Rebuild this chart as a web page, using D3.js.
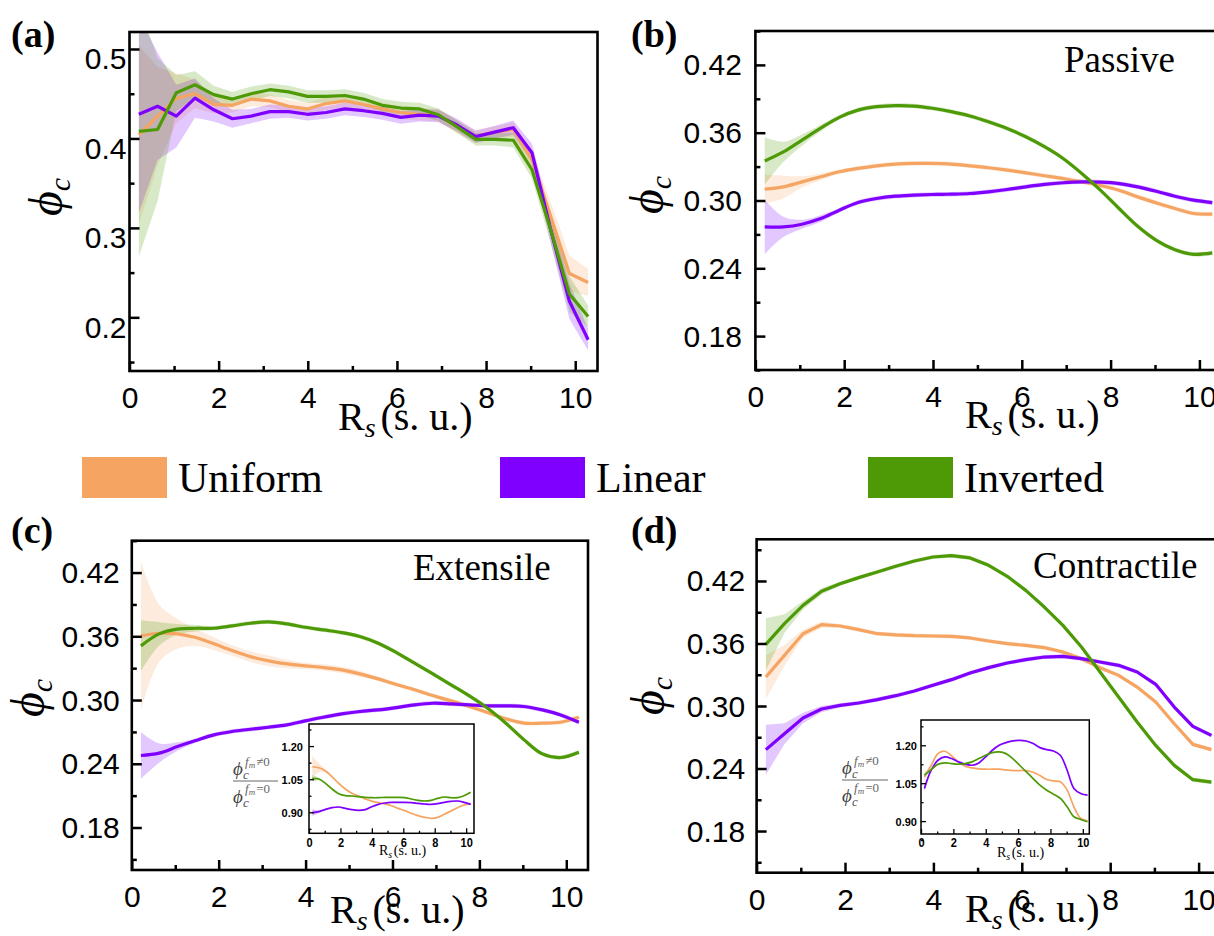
<!DOCTYPE html>
<html><head><meta charset="utf-8">
<script src="https://cdn.jsdelivr.net/npm/d3@7"></script>
<style>body{margin:0;background:#fff}svg{display:block}</style>
</head><body>
<svg id="c" width="1214" height="936"></svg>
<script>
// ---------------- DATA ----------------
const xs = [0.21,0.63,1.05,1.47,1.89,2.31,2.73,3.15,3.57,3.99,4.41,4.83,5.25,5.67,6.09,6.51,6.93,7.35,7.77,8.19,8.61,9.03,9.45,9.87,10.29];
const seriesNames = ["Uniform","Linear","Inverted"];
const seriesColors = ["#F5A462","#7F00FF","#4E9A06"];

const xTicks = [0,2,4,6,8,10];
const xMinorTicks = [1,3,5,7,9];
const aYTicks = [0.2,0.3,0.4,0.5];
const aYMinor = [0.15,0.25,0.35,0.45];
const phiYTicks = [0.18,0.24,0.30,0.36,0.42];
const phiYMinor = [0.15,0.21,0.27,0.33,0.39,0.45];
const insetYTicks = [0.90,1.05,1.20];
const insetYMinor = [0.825,0.975,1.125,1.275];
const insetXTicks = [0,2,4,6,8,10];
const insetXMinor = [1,3,5,7,9];

const panelLabels = ["(a)","(b)","(c)","(d)"];
const panelTitles = ["","Passive","Extensile","Contractile"];

// panel (a)
const aUniform  = [0.404,0.425,0.445,0.450,0.438,0.437,0.444,0.442,0.436,0.433,0.439,0.442,0.438,0.433,0.429,0.427,0.426,0.413,0.402,0.407,0.410,0.376,0.313,0.249,0.239];
const aLinear   = [0.427,0.436,0.425,0.445,0.432,0.422,0.425,0.430,0.430,0.427,0.429,0.433,0.431,0.428,0.4235,0.426,0.425,0.415,0.402,0.407,0.412,0.384,0.298,0.218,0.175];
const aInverted = [0.408,0.410,0.451,0.460,0.449,0.444,0.450,0.4545,0.452,0.447,0.447,0.448,0.444,0.437,0.434,0.433,0.4265,0.413,0.399,0.399,0.398,0.365,0.298,0.226,0.201];
const aUniformErr  = [0.10,0.055,0.028,0.016,0.010,0.008,0.008,0.007,0.007,0.007,0.007,0.007,0.007,0.007,0.007,0.007,0.007,0.007,0.007,0.007,0.008,0.010,0.016,0.020,0.015];
const aLinearErr   = [0.11,0.060,0.035,0.022,0.013,0.010,0.008,0.008,0.007,0.007,0.007,0.007,0.007,0.007,0.007,0.007,0.007,0.007,0.007,0.007,0.008,0.010,0.015,0.020,0.012];
const aInvertedErr = [0.14,0.080,0.020,0.015,0.010,0.008,0.008,0.007,0.007,0.007,0.007,0.007,0.007,0.007,0.007,0.007,0.007,0.007,0.007,0.007,0.008,0.010,0.015,0.020,0.012];

// panel (b) Passive
const bUniform  = [0.310,0.312,0.3165,0.321,0.3254,0.3284,0.3307,0.3322,0.3328,0.3328,0.3322,0.3307,0.329,0.3269,0.3245,0.3219,0.3195,0.3165,0.3133,0.3091,0.3032,0.2979,0.2929,0.2885,0.2879];
const bLinear   = [0.2766,0.2766,0.279,0.284,0.2914,0.2982,0.3018,0.3038,0.3047,0.3053,0.3056,0.3062,0.3077,0.3097,0.3121,0.3142,0.3157,0.3165,0.3162,0.315,0.3121,0.3082,0.3038,0.3003,0.2982];
const bInverted = [0.335,0.343,0.3535,0.364,0.3736,0.380,0.383,0.384,0.3836,0.3816,0.3786,0.3748,0.3697,0.3638,0.3564,0.3476,0.3372,0.3239,0.3092,0.2929,0.2772,0.2648,0.2565,0.2524,0.2536];
const bUniformErr  = [0.013,0.010,0.005,0.003,0.002,0.002,0.002,0.002,0.002,0.002,0.002,0.002,0.002,0.002,0.002,0.002,0.002,0.002,0.002,0.002,0.002,0.002,0.002,0.002,0.002];
const bLinearErr   = [0.024,0.009,0.004,0.003,0.002,0.002,0.002,0.002,0.002,0.002,0.002,0.002,0.002,0.002,0.002,0.002,0.002,0.002,0.002,0.002,0.002,0.002,0.002,0.002,0.002];
const bInvertedErr = [0.021,0.009,0.005,0.003,0.002,0.002,0.002,0.002,0.002,0.002,0.002,0.002,0.002,0.002,0.002,0.002,0.002,0.002,0.002,0.002,0.002,0.002,0.002,0.002,0.002];

// panel (c) Extensile
const cUniform  = [0.3604,0.3629,0.3623,0.3588,0.3529,0.3466,0.3409,0.3369,0.334,0.3322,0.3306,0.3284,0.3246,0.3199,0.3146,0.3096,0.3042,0.2992,0.2939,0.2882,0.2823,0.2782,0.2782,0.2791,0.2838];
const cLinear   = [0.2478,0.25,0.2562,0.2619,0.2672,0.2704,0.2725,0.2744,0.2766,0.2804,0.2838,0.287,0.2892,0.2907,0.2929,0.2955,0.297,0.2964,0.2955,0.2945,0.2945,0.2939,0.2907,0.286,0.2791];
const cInverted = [0.351,0.3623,0.3667,0.3676,0.3676,0.3698,0.3723,0.3736,0.3717,0.3685,0.366,0.3635,0.3598,0.3535,0.3447,0.3347,0.3246,0.3143,0.3039,0.2923,0.2782,0.2625,0.2493,0.2459,0.2509];
const cUniformErr  = [0.070,0.027,0.014,0.008,0.006,0.005,0.005,0.005,0.004,0.003,0.003,0.003,0.003,0.002,0.002,0.002,0.002,0.002,0.002,0.002,0.002,0.002,0.002,0.002,0.002];
const cLinearErr   = [0.022,0.009,0.004,0.002,0.002,0.002,0.002,0.002,0.002,0.002,0.002,0.002,0.002,0.002,0.002,0.002,0.002,0.002,0.002,0.002,0.002,0.002,0.002,0.002,0.002];
const cInvertedErr = [0.024,0.011,0.005,0.003,0.002,0.002,0.002,0.002,0.002,0.002,0.002,0.002,0.002,0.002,0.002,0.002,0.002,0.002,0.002,0.002,0.002,0.002,0.002,0.002,0.002];

// panel (d) Contractile
const dUniform  = [0.3278,0.3486,0.3694,0.3781,0.3768,0.3733,0.3694,0.3682,0.3675,0.3672,0.3669,0.3653,0.3624,0.3598,0.3582,0.356,0.3518,0.3454,0.3368,0.3294,0.3182,0.3038,0.283,0.2632,0.2581];
const dLinear   = [0.2581,0.2734,0.2885,0.2971,0.3006,0.3029,0.3061,0.3099,0.3144,0.32,0.3253,0.3317,0.3368,0.3413,0.3445,0.347,0.3477,0.3454,0.3422,0.339,0.3326,0.3208,0.299,0.2805,0.2718];
const dInverted = [0.3592,0.379,0.3966,0.4101,0.4174,0.4232,0.4286,0.4341,0.4392,0.443,0.4443,0.4421,0.435,0.4245,0.411,0.395,0.3774,0.3566,0.3326,0.3086,0.2846,0.2622,0.243,0.2293,0.227];
const dUniformErr  = [0.021,0.010,0.004,0.003,0.002,0.002,0.002,0.002,0.002,0.002,0.002,0.002,0.002,0.002,0.002,0.002,0.002,0.002,0.002,0.002,0.002,0.002,0.002,0.002,0.002];
const dLinearErr   = [0.024,0.010,0.005,0.003,0.002,0.002,0.002,0.002,0.002,0.002,0.002,0.002,0.002,0.002,0.002,0.002,0.002,0.002,0.002,0.002,0.002,0.002,0.002,0.002,0.002];
const dInvertedErr = [0.025,0.009,0.004,0.003,0.002,0.002,0.002,0.002,0.002,0.002,0.002,0.002,0.002,0.002,0.002,0.002,0.002,0.002,0.002,0.002,0.002,0.002,0.002,0.002,0.002];

// inset of (c): ratio phi_c(fm!=0)/phi_c(fm=0)
const icUniform  = [1.1065,1.102,1.087,1.061,1.031,1.0055,0.986,0.974,0.960,0.951,0.944,0.938,0.930,0.918,0.9075,0.8955,0.885,0.8774,0.873,0.8774,0.891,0.906,0.921,0.933,0.9407];
const icLinear   = [0.8985,0.903,0.9136,0.9211,0.9241,0.9181,0.912,0.909,0.912,0.9256,0.9362,0.9422,0.9452,0.9452,0.9452,0.9437,0.9407,0.9377,0.9362,0.9392,0.9452,0.9497,0.9512,0.9452,0.9362];
const icInverted = [1.0538,1.0507,1.031,1.0055,0.9844,0.9754,0.9739,0.9708,0.9678,0.9663,0.9663,0.9678,0.9678,0.9678,0.9663,0.9603,0.9543,0.9512,0.9543,0.9633,0.9693,0.9663,0.9663,0.9754,0.9904];
const icUniformErr  = [0.050,0.020,0.008,0.004,0.003,0.002,0.002,0.002,0.002,0.002,0.002,0.002,0.002,0.002,0.002,0.002,0.002,0.002,0.002,0.002,0.002,0.002,0.002,0.002,0.002];
const icLinearErr   = [0.015,0.006,0.003,0.002,0.002,0.002,0.002,0.002,0.002,0.002,0.002,0.002,0.002,0.002,0.002,0.002,0.002,0.002,0.002,0.002,0.002,0.002,0.002,0.002,0.002];
const icInvertedErr = [0.015,0.006,0.003,0.002,0.002,0.002,0.002,0.002,0.002,0.002,0.002,0.002,0.002,0.002,0.002,0.002,0.002,0.002,0.002,0.002,0.002,0.002,0.002,0.002,0.002];

// inset of (d)
const idUniform  = [1.075,1.121,1.167,1.1763,1.158,1.134,1.117,1.1105,1.1066,1.1053,1.1053,1.1053,1.1026,1.10,1.10,1.10,1.0934,1.080,1.0645,1.0592,1.0553,1.0224,0.9566,0.9105,0.9013];
const idLinear   = [1.029,1.1013,1.1408,1.154,1.1474,1.1342,1.125,1.121,1.1303,1.154,1.1803,1.20,1.2105,1.2171,1.2197,1.2171,1.2066,1.1908,1.1829,1.1776,1.1605,1.1013,1.029,1.0092,1.0026];
const idInverted = [1.0816,1.104,1.125,1.1303,1.1276,1.125,1.1276,1.1342,1.1474,1.1605,1.171,1.1737,1.167,1.1474,1.121,1.0947,1.0684,1.0421,1.0224,1.0066,0.9895,0.9566,0.9171,0.9066,0.8974];
const idUniformErr  = [0.012,0.005,0.003,0.002,0.002,0.002,0.002,0.002,0.002,0.002,0.002,0.002,0.002,0.002,0.002,0.002,0.002,0.002,0.002,0.002,0.002,0.002,0.002,0.002,0.002];
const idLinearErr   = [0.014,0.006,0.003,0.002,0.002,0.002,0.002,0.002,0.002,0.002,0.002,0.002,0.002,0.002,0.002,0.002,0.002,0.002,0.002,0.002,0.002,0.002,0.002,0.002,0.002];
const idInvertedErr = [0.012,0.005,0.003,0.002,0.002,0.002,0.002,0.002,0.002,0.002,0.002,0.002,0.002,0.002,0.002,0.002,0.002,0.002,0.002,0.002,0.002,0.002,0.002,0.002,0.002];

// ---------------- DRAWING ----------------
const svg = d3.select("#c");
const SERIF = "'Liberation Serif','Times New Roman',Times,'DejaVu Serif',serif";
const SANS = "'Liberation Sans',Arial,Helvetica,sans-serif";
const color = d3.scaleOrdinal().domain(seriesNames).range(seriesColors);
svg.append("rect").attr("width",1214).attr("height",936).attr("fill","#fff");

function mk(names, vals, errs){ return names.map((n,i)=>({name:n, values:vals[i], err:errs[i]})); }

function drawPanel(cfg){
  const x = d3.scaleLinear().domain(cfg.xDomain).range([cfg.left, cfg.right]);
  const y = d3.scaleLinear().domain(cfg.yDomain).range([cfg.bottom, cfg.top]);
  const g = svg.append("g");
  if (cfg.inset) g.append("rect").attr("x",cfg.left).attr("y",cfg.top)
      .attr("width",cfg.right-cfg.left).attr("height",cfg.bottom-cfg.top).attr("fill","#fff");
  const cid = "clip-"+cfg.id;
  g.append("clipPath").attr("id",cid).append("rect").attr("x",cfg.left).attr("y",cfg.top)
      .attr("width",cfg.right-cfg.left).attr("height",cfg.bottom-cfg.top);
  const plot = g.append("g").attr("clip-path",`url(#${cid})`);
  const ser = cfg.series.map(s=>({name:s.name, pts:s.values.map((v,i)=>({x:xs[i], v:v, e:s.err[i]}))}));
  const area = d3.area().x(d=>x(d.x)).y0(d=>y(d.v-d.e)).y1(d=>y(d.v+d.e)).curve(cfg.curve);
  const line = d3.line().x(d=>x(d.x)).y(d=>y(d.v)).curve(cfg.curve);
  plot.selectAll("path.band").data(ser).join("path").attr("class","band")
      .attr("d",d=>area(d.pts)).attr("fill",d=>color(d.name)).attr("fill-opacity",cfg.bandOp);
  plot.selectAll("path.ln").data(ser).join("path").attr("class","ln")
      .attr("d",d=>line(d.pts)).attr("fill","none").attr("stroke",d=>color(d.name))
      .attr("stroke-width",cfg.lw).attr("stroke-linejoin","round");

  // axes (ticks inward)
  const gxm = g.append("g").attr("transform",`translate(0,${cfg.bottom})`)
      .call(d3.axisBottom(x).tickValues(cfg.xMinor).tickSize(-cfg.minorLen).tickFormat("").tickSizeOuter(0));
  const gx = g.append("g").attr("transform",`translate(0,${cfg.bottom})`)
      .call(d3.axisBottom(x).tickValues(cfg.xTicks).tickSize(-cfg.majorLen).tickSizeOuter(0).tickFormat(d3.format("d")));
  const gym = g.append("g").attr("transform",`translate(${cfg.left},0)`)
      .call(d3.axisLeft(y).tickValues(cfg.yMinor).tickSize(-cfg.minorLen).tickFormat("").tickSizeOuter(0));
  const gy = g.append("g").attr("transform",`translate(${cfg.left},0)`)
      .call(d3.axisLeft(y).tickValues(cfg.yTicks).tickSize(-cfg.majorLen).tickSizeOuter(0)
            .tickPadding(cfg.yPad).tickFormat(d3.format(cfg.yFmt)));
  [gxm,gx,gym,gy].forEach(a=>{ a.select(".domain").remove(); a.selectAll("line").attr("stroke","#000").attr("stroke-width",cfg.tickW); });
  gx.attr("font-family",SANS).attr("font-size",cfg.xFont).attr("font-weight",cfg.fontWeight);
  gx.selectAll("text").attr("y",null).attr("dy",null).attr("fill","#000")
    .attr("transform",`translate(0,${cfg.xBase}) scale(1,${cfg.xSY})`);
  gy.attr("font-family",SANS).attr("font-size",cfg.yFont).attr("font-weight",cfg.fontWeight);
  gy.selectAll("text").attr("dy",null).attr("y",cfg.yBase).attr("fill","#000");
  g.append("rect").attr("x",cfg.left).attr("y",cfg.top).attr("width",cfg.right-cfg.left)
   .attr("height",cfg.bottom-cfg.top).attr("fill","none").attr("stroke","#000").attr("stroke-width",cfg.frameW);

  // x title R_s (s. u.)
  const t = svg.append("text").attr("x",cfg.titleX).attr("y",cfg.titleY)
     .attr("font-family",SERIF).attr("font-size",cfg.titleFont).attr("fill","#000");
  t.append("tspan").text("R");
  t.append("tspan").attr("font-style","italic").attr("font-size",cfg.titleFont*0.7).attr("dy",cfg.titleFont*0.18).text("s");
  t.append("tspan").attr("dy",-cfg.titleFont*0.18).attr("dx",cfg.titleFont*0.12).text("(s. u.)");
  return {x,y};
}

function mainCfg(o){
  return Object.assign({xDomain:[0,10.5], xTicks:xTicks, xMinor:xMinorTicks, yTicks:phiYTicks, yMinor:phiYMinor,
    yFmt:".2f", majorLen:10, minorLen:5, tickW:2.5, frameW:2.6, lw:3.2, bandOp:0.22,
    xFont:30, xSY:1.0, yFont:30, yBase:10, fontWeight:"normal", titleFont:40, inset:false}, o);
}
function insetCfg(o){
  return Object.assign({xTicks:insetXTicks, xMinor:insetXMinor, yTicks:insetYTicks, yMinor:insetYMinor,
    yFmt:".2f", majorLen:5, minorLen:2.5, tickW:1.3, frameW:1.5, lw:1.7, bandOp:0.25,
    xFont:11, xSY:1.1, yFont:11, yBase:4, fontWeight:"bold", titleFont:14, inset:true, curve:d3.curveCatmullRom}, o);
}

// Panel a
drawPanel(mainCfg({id:"a", left:129.5, right:597.5, top:32, bottom:371, yDomain:[0.14,0.519],
  yTicks:aYTicks, yMinor:aYMinor, yFmt:".1f", yPad:3, yBase:20, xBase:37,
  curve:d3.curveLinear, titleX:338, titleY:430,
  series:mk(seriesNames,[aUniform,aLinear,aInverted],[aUniformErr,aLinearErr,aInvertedErr])}));
// Panel b
drawPanel(mainCfg({id:"b", left:755.4, right:1221.6, top:31, bottom:370, yDomain:[0.15,0.45],
  yPad:13.5, xBase:37, curve:d3.curveCatmullRom, titleX:965, titleY:428,
  series:mk(seriesNames,[bUniform,bLinear,bInverted],[bUniformErr,bLinearErr,bInvertedErr])}));
// Panel c
drawPanel(mainCfg({id:"c", left:131.8, right:588, top:540.7, bottom:870, yDomain:[0.14,0.45],
  yPad:12, xBase:37, curve:d3.curveCatmullRom, titleX:330, titleY:923,
  series:mk(seriesNames,[cUniform,cLinear,cInverted],[cUniformErr,cLinearErr,cInvertedErr])}));
// Panel d
drawPanel(mainCfg({id:"d", left:756.6, right:1220.7, top:539.3, bottom:872.7, yDomain:[0.14,0.46],
  yPad:11.5, xBase:37, curve:d3.curveLinear, titleX:965, titleY:922,
  series:mk(seriesNames,[dUniform,dLinear,dInverted],[dUniformErr,dLinearErr,dInvertedErr])}));
// Insets
drawPanel(insetCfg({id:"ic", left:309, right:474, top:724, bottom:833.3, xDomain:[0,10.5], yDomain:[0.805,1.30],
  yPad:6, xBase:14, titleX:379, titleY:855,
  series:mk(seriesNames,[icUniform,icLinear,icInverted],[icUniformErr,icLinearErr,icInvertedErr])}));
drawPanel(insetCfg({id:"id", left:921, right:1089.3, top:720, bottom:834, xDomain:[0,10.4], yDomain:[0.849,1.30],
  yPad:4, xBase:13, titleX:997, titleY:857,
  series:mk(seriesNames,[idUniform,idLinear,idInverted],[idUniformErr,idLinearErr,idInvertedErr])}));

// y titles phi_c
function phiTitle(bx, cy){
  const t = svg.append("text").attr("transform",`translate(${bx},${cy}) rotate(-90)`)
    .attr("text-anchor","middle").attr("font-family",SERIF).attr("font-style","italic").attr("font-size",48).attr("fill","#000");
  t.append("tspan").text("\u03D5");
  t.append("tspan").attr("font-size",30).attr("dy",8).text("c");
}
phiTitle(62,197); phiTitle(663,195); phiTitle(44,698); phiTitle(664,696);

// inset y label: fraction
function fracLabel(x1, lineY, x2){
  const g = svg.append("g").attr("font-family",SERIF).attr("font-style","italic");
  function part(by){
    g.append("text").attr("x",x1).attr("y",lineY+by.phi).attr("font-size",19).attr("fill","#444").text("\u03D5");
    g.append("text").attr("x",x1+10).attr("y",lineY+by.sub).attr("font-size",13).attr("fill","#555").text("c");
    const s = g.append("text").attr("x",x1+12).attr("y",lineY+by.sup).attr("font-size",13).attr("fill","#666");
    s.append("tspan").text("f");
    s.append("tspan").attr("font-size",9).attr("dy",2).text("m");
    s.append("tspan").attr("font-style","normal").attr("dy",-2).attr("dx",1).text(by.rel+"0");
  }
  part({phi:-6, sub:-2, sup:-15, rel:"\u2260"});
  part({phi:22, sub:26, sup:12, rel:"="});
  g.append("line").attr("x1",x1).attr("x2",x2).attr("y1",lineY).attr("y2",lineY).attr("stroke","#666").attr("stroke-width",1);
}
fracLabel(233,781,278);
fracLabel(842,780,888);

// panel labels and titles
const labelPos = [[11,47],[631,47],[11,543],[631,543]];
panelLabels.forEach((l,i)=>{
  svg.append("text").attr("x",labelPos[i][0]).attr("y",labelPos[i][1]).attr("font-family",SERIF)
    .attr("font-weight","bold").attr("font-size",38).attr("fill","#000").text(l);
});
const titlePos = [null,[1064,72],[413,580],[1033,578]];
panelTitles.forEach((t,i)=>{
  if(!t) return;
  svg.append("text").attr("x",titlePos[i][0]).attr("y",titlePos[i][1]).attr("font-family",SERIF)
    .attr("font-size",37).attr("fill","#000").text(t);
});

// legend
const legendX = [82,500,868];
const lg = svg.append("g");
seriesNames.forEach((n,i)=>{
  lg.append("rect").attr("x",legendX[i]).attr("y",457).attr("width",85).attr("height",41).attr("fill",color(n));
  lg.append("text").attr("x",legendX[i]+96).attr("y",492).attr("font-family",SERIF).attr("font-size",42).attr("fill","#000").text(n);
});
</script>
</body></html>
